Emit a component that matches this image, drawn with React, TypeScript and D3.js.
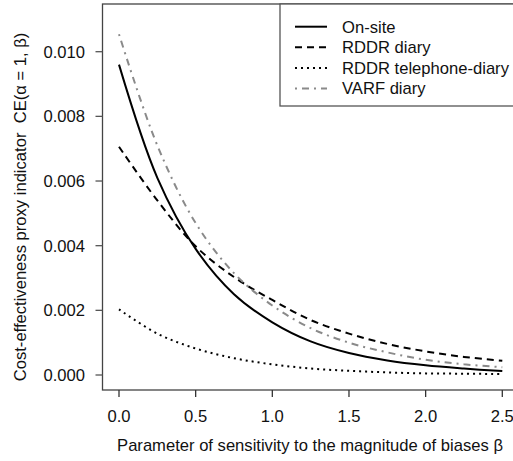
import React from 'react';
import * as d3 from 'd3';

// beta values along the x axis
const betas = [0, 0.25, 0.5, 0.75, 1.0, 1.25, 1.5, 1.75, 2.0, 2.25, 2.5];

// cost-effectiveness proxy
const onSite = [0.0096, 0.0061, 0.0039, 0.0025, 0.00163, 0.00104, 0.00068, 0.00045, 0.0003, 0.0002, 0.00012];
const rddrDiary = [0.00706, 0.0054, 0.00398, 0.00303, 0.00232, 0.0017, 0.00128, 0.00096, 0.00073, 0.00056, 0.00044];
const rddrPhone = [0.00203, 0.00128, 0.00082, 0.00052, 0.00033, 0.0002, 0.00013, 0.00008, 0.00005, 0.00004, 0.00003];
const varfDiary = [0.01054, 0.0071, 0.0047, 0.00315, 0.00215, 0.00145, 0.001, 0.0007, 0.00047, 0.00033, 0.00024];

const xTicks = [0, 0.5, 1.0, 1.5, 2.0, 2.5];
const yTicks = [0, 0.002, 0.004, 0.006, 0.008, 0.01];

const series = [
  { name: 'On-site', values: onSite, color: '#000', dash: null },
  { name: 'RDDR diary', values: rddrDiary, color: '#000', dash: '7,5' },
  { name: 'RDDR telephone-diary', values: rddrPhone, color: '#000', dash: '2,4' },
  { name: 'VARF diary', values: varfDiary, color: '#8a8a8a', dash: '2,5,7,5' },
];

const font = '"Liberation Sans", Arial, sans-serif';
const fs = 16.6;

export default function App() {
  const W = 513, H = 461;
  const left = 102.5, right = 518, top = 4, bottom = 390;

  const x = d3.scaleLinear().domain([0, 2.5]).range([119, 502.3]);
  const y = d3.scaleLinear().domain([0, 0.01]).range([375, 51.7]);

  const line = d3.line<number>()
    .x((d, i) => x(betas[i]))
    .y(d => y(d))
    .curve(d3.curveCatmullRom.alpha(0.5));

  return (
    <svg width={W} height={H} style={{ position: 'absolute', left: 0, top: 0 }} fontFamily={font}>
      <rect x={0} y={0} width={W} height={H} fill="#fff" />
      {series.map(s => (
        <path key={s.name} d={line(s.values) || ''} fill="none" stroke={s.color}
          strokeWidth={2} strokeDasharray={s.dash || undefined} />
      ))}
      {/* box */}
      <rect x={left} y={top} width={right - left} height={bottom - top} fill="none" stroke="#444" strokeWidth={1.3} />
      {/* x axis */}
      {xTicks.map(t => (
        <g key={'x' + t}>
          <line x1={x(t)} x2={x(t)} y1={bottom} y2={bottom + 7} stroke="#333" strokeWidth={1.3} />
          <text x={x(t)} y={421.5} textAnchor="middle" fontSize={fs} fill="#111">{t.toFixed(1)}</text>
        </g>
      ))}
      {/* y axis */}
      {yTicks.map(t => (
        <g key={'y' + t}>
          <line x1={left - 7} x2={left} y1={y(t)} y2={y(t)} stroke="#555" strokeWidth={1.3} />
          <text x={85} y={y(t) + 6} textAnchor="end" fontSize={fs} fill="#111">{t.toFixed(3)}</text>
        </g>
      ))}
      <text x={310} y={451} textAnchor="middle" fontSize={fs} fill="#111">
        Parameter of sensitivity to the magnitude of biases β
      </text>
      <text transform="translate(25.5,207) rotate(-90)" textAnchor="middle" fontSize={fs} fill="#111">
        {'Cost-effectiveness proxy indicator\u00a0\u00a0CE(α\u00a0=\u00a01,\u00a0β)'}
      </text>
      {/* legend */}
      <rect x={280} y={top} width={260} height={102} fill="#fff" stroke="#555" strokeWidth={1.3} />
      {series.map((s, i) => {
        const ly = 26.7 + i * 20.6;
        return (
          <g key={'lg' + s.name}>
            <line x1={295} x2={327} y1={ly} y2={ly} stroke={s.color} strokeWidth={2}
              strokeDasharray={s.dash || undefined} />
            <text x={342} y={ly + 5.9} fontSize={fs} fill="#111">{s.name}</text>
          </g>
        );
      })}
    </svg>
  );
}
